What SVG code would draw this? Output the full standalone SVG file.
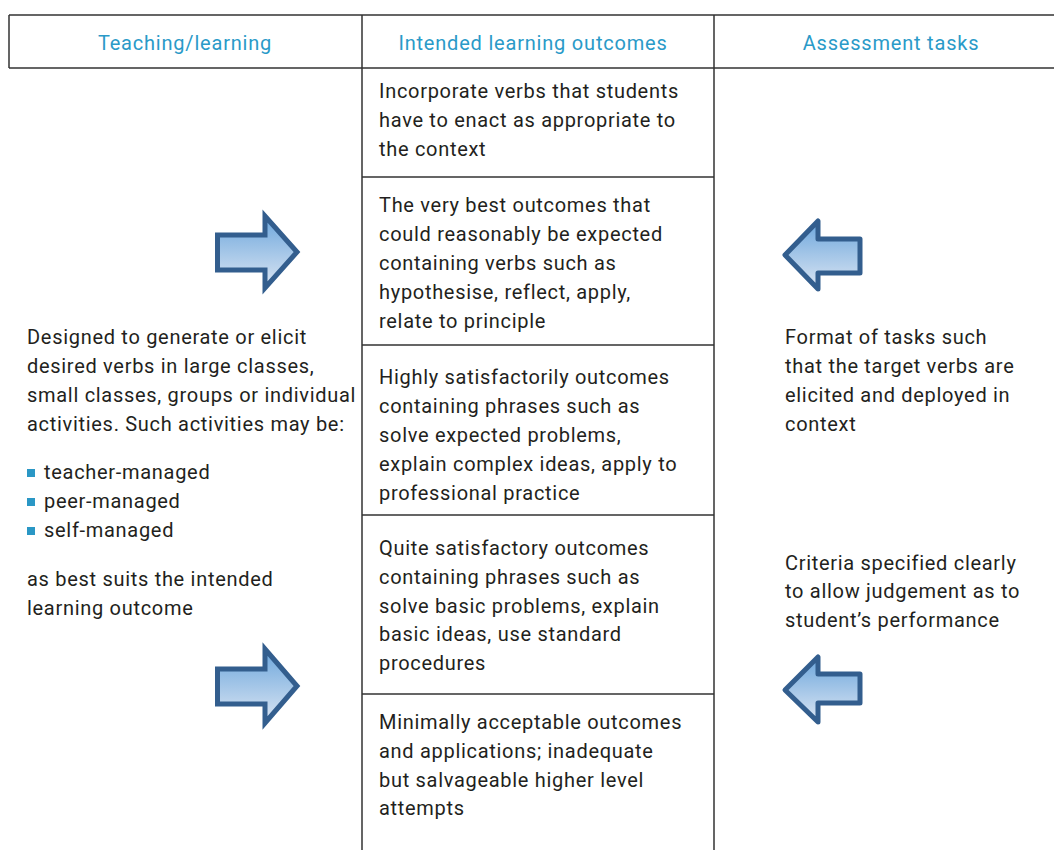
<svg xmlns="http://www.w3.org/2000/svg" width="1054" height="850" viewBox="0 0 1054 850">
<defs>
<linearGradient id="g" x1="0" y1="0" x2="0" y2="1">
<stop offset="0" stop-color="#6CA6DC"/>
<stop offset="1" stop-color="#DCE6F3"/>
</linearGradient>
</defs>
<style>
.t{font-family:Roboto,"Liberation Sans",sans-serif;font-size:20px;fill:#231F20;letter-spacing:0.7px}
.h{font-family:Roboto,"Liberation Sans",sans-serif;font-size:20px;fill:#2A9AC8;text-anchor:middle;letter-spacing:0.8px}
.ln{stroke:#333;stroke-width:1.5;fill:none}
.ar{fill:url(#g);stroke:#335E8E;stroke-width:5}
.bl{fill:#2A97C5}
</style>
<rect width="1054" height="850" fill="#fff"/>
<g id="table">
<path class="ln" d="M9,15 H1054 M9,68 H1054 M9,15 V68 M362,15 V850 M714,15 V850 M362,177 H714 M362,345 H714 M362,515 H714 M362,694 H714"/>
</g>
<g id="headers">
<text class="h" x="185" y="50">Teaching/learning</text>
<text class="h" x="533" y="50">Intended learning outcomes</text>
<text class="h" x="891" y="50">Assessment tasks</text>
</g>
<g id="ilo1"><text class="t" x="379" y="98">Incorporate verbs that students</text><text class="t" x="379" y="127">have to enact as appropriate to</text><text class="t" x="379" y="156">the context</text></g>
<g id="ilo2"><text class="t" x="379" y="212">The very best outcomes that</text><text class="t" x="379" y="241">could reasonably be expected</text><text class="t" x="379" y="270">containing verbs such as</text><text class="t" x="379" y="299">hypothesise, reflect, apply,</text><text class="t" x="379" y="328">relate to principle</text></g>
<g id="ilo3"><text class="t" x="379" y="384">Highly satisfactorily outcomes</text><text class="t" x="379" y="413">containing phrases such as</text><text class="t" x="379" y="442">solve expected problems,</text><text class="t" x="379" y="471">explain complex ideas, apply to</text><text class="t" x="379" y="500">professional practice</text></g>
<g id="ilo4"><text class="t" x="379" y="555">Quite satisfactory outcomes</text><text class="t" x="379" y="584">containing phrases such as</text><text class="t" x="379" y="613">solve basic problems, explain</text><text class="t" x="379" y="641">basic ideas, use standard</text><text class="t" x="379" y="670">procedures</text></g>
<g id="ilo5"><text class="t" x="379" y="729">Minimally acceptable outcomes</text><text class="t" x="379" y="758">and applications; inadequate</text><text class="t" x="379" y="787">but salvageable higher level</text><text class="t" x="379" y="815">attempts</text></g>
<g id="teaching">
<text class="t" x="27" y="344">Designed to generate or elicit</text>
<text class="t" x="27" y="373">desired verbs in large classes,</text>
<text class="t" x="27" y="402">small classes, groups or individual</text>
<text class="t" x="27" y="431">activities. Such activities may be:</text>
<rect class="bl" x="27" y="469" width="8" height="8"/><text class="t" x="44" y="479">teacher-managed</text>
<rect class="bl" x="27" y="498" width="8" height="8"/><text class="t" x="44" y="508">peer-managed</text>
<rect class="bl" x="27" y="527" width="8" height="8"/><text class="t" x="44" y="537">self-managed</text>
<text class="t" x="27" y="586">as best suits the intended</text>
<text class="t" x="27" y="615">learning outcome</text>
</g>
<g id="assessment">
<text class="t" x="785" y="344">Format of tasks such</text>
<text class="t" x="785" y="373">that the target verbs are</text>
<text class="t" x="785" y="402">elicited and deployed in</text>
<text class="t" x="785" y="431">context</text>
<text class="t" x="785" y="570">Criteria specified clearly</text>
<text class="t" x="785" y="598">to allow judgement as to</text>
<text class="t" x="785" y="627">student’s performance</text>
</g>
<g id="connectors">
<path class="ar" d="M217.5,235 H265 V216 L297,252 L265,288 V270 H217.5 Z"/>
<path class="ar" d="M217.5,669 H265 V649 L297,686 L265,723 V704 H217.5 Z"/>
<path class="ar" stroke-linejoin="round" d="M785,255 L818,221 V239 H860 V273 H818 V289 Z"/>
<path class="ar" stroke-linejoin="round" d="M785,690 L818,657 V674 H860 V703 H818 V722 Z"/>
</g>
</svg>
